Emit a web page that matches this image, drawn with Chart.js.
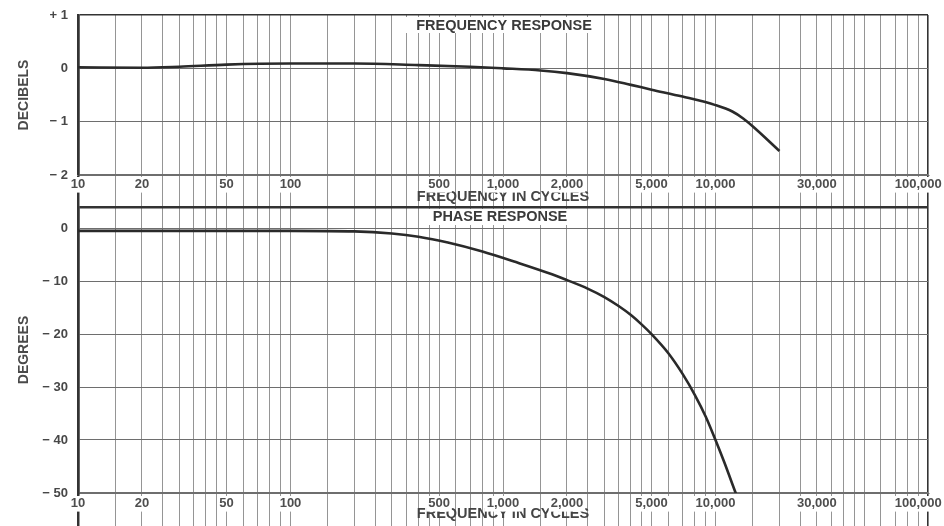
<!DOCTYPE html>
<html><head><meta charset="utf-8">
<script src="https://cdn.jsdelivr.net/npm/chart.js@4"></script>
<style>
html,body{margin:0;padding:0;background:#fff;overflow:hidden;}
#wrap{position:relative;width:944px;height:526px;background:#fff;}
canvas{position:absolute;left:0;}
#c1{top:0;}
#c2{top:200px;}
</style></head><body>
<div id="wrap"><canvas id="c1" width="944" height="210"></canvas><canvas id="c2" width="944" height="326"></canvas></div>
<script>
// ---- data ----
const freqResponseHz = [10, 20, 30, 50, 100, 200, 400, 700, 1000, 1500, 2000, 3000, 4000, 5000, 7000, 10000, 12000, 13500, 15000, 20000];
const freqResponseDb = [0.02, 0.01, 0.03, 0.07, 0.09, 0.09, 0.06, 0.03, 0.0, -0.04, -0.09, -0.2, -0.31, -0.4, -0.53, -0.69, -0.81, -0.94, -1.09, -1.55];
const phaseHz = [10, 100, 200, 300, 400, 550, 800, 1150, 1700, 2000, 2500, 3000, 3500, 4000, 4500, 5000, 6000, 7000, 8000, 9000, 10000, 11000, 12000, 12500];
const phaseDeg = [-0.5, -0.5, -0.6, -1.0, -1.6, -2.7, -4.4, -6.4, -8.7, -9.8, -11.4, -13.0, -14.7, -16.4, -18.2, -20.0, -23.6, -27.5, -31.5, -35.6, -40.0, -44.2, -48.3, -50.2];

const gridMultipliers = [1, 1.5, 2, 2.5, 3, 3.5, 4, 4.5, 5, 6, 7, 8, 9];
const gridDecades = [10, 100, 1000, 10000];
const xMin = 10, xMax = 100000;
const xLabelValues = [10, 20, 50, 100, 500, 1000, 2000, 5000, 10000, 30000, 100000];
const xLabelTexts = ['10', '20', '50', '100', '500', '1,000', '2,000', '5,000', '10,000', '30,000', '100,000'];
const xAxisTitle = 'FREQUENCY IN CYCLES';

const dbTicks = [1, 0, -1, -2];
const dbTickLabels = ['+ 1', '0', '\u2212 1', '\u2212 2'];
const degTicks = [4, 0, -10, -20, -30, -40, -50];
const degTickLabels = ['', '0', '\u2212 10', '\u2212 20', '\u2212 30', '\u2212 40', '\u2212 50'];

const topTitle = 'FREQUENCY RESPONSE';
const bottomTitle = 'PHASE RESPONSE';
const topYTitle = 'DECIBELS';
const bottomYTitle = 'DEGREES';

// ---- styling ----
const FONT = '"Liberation Sans", Arial, Helvetica, sans-serif';
const INK = '#2a2a2a';
const LABEL = '#4e4e4e';
const VGRID = '#959595';
const HGRID = '#6e6e6e';
const FRAME = '#333333';

const gridValues = [];
gridDecades.forEach(d => gridMultipliers.forEach(m => gridValues.push(m * d)));
gridValues.push(xMax);

const panelTitlePlugin = {
  id: 'panelTitle',
  beforeDatasetsDraw(chart, args, opts) {
    const {ctx, chartArea} = chart;
    ctx.save();
    ctx.font = 'bold 14.5px ' + FONT;
    const cx = (chartArea.left + chartArea.right) / 2;
    const w = ctx.measureText(opts.text).width + opts.padX * 2;
    ctx.fillStyle = '#ffffff';
    ctx.fillRect(cx - w / 2, chartArea.top + 2, w, opts.boxH);
    ctx.fillStyle = '#3a3a3a';
    ctx.textAlign = 'center';
    ctx.textBaseline = 'middle';
    ctx.fillText(opts.text, cx + opts.dx, chartArea.top + opts.dy);
    ctx.restore();
  }
};

function xScale(scaleHeight, tickLen, labelPad, titlePadBottom) {
  return {
    type: 'logarithmic',
    min: xMin, max: xMax,
    afterBuildTicks: s => { s.ticks = gridValues.map(v => ({value: v})); },
    afterFit: s => { s.height = scaleHeight; s.paddingLeft = 0; s.paddingRight = 0; },
    grid: {
      color: c => (c.tick && (c.tick.value === xMin || c.tick.value === xMax)) ? FRAME : VGRID,
      lineWidth: c => (c.tick && c.tick.value === xMin) ? 2.5 : ((c.tick && c.tick.value === xMax) ? 1.6 : 1),
      drawTicks: true,
      tickLength: tickLen
    },
    border: {display: true, color: HGRID, width: 1},
    ticks: {
      autoSkip: false, maxRotation: 0, minRotation: 0,
      padding: labelPad,
      color: LABEL,
      font: {family: FONT, size: 13, weight: 'bold'},
      callback: v => {
        const i = xLabelValues.indexOf(v);
        if (i < 0) return '';
        return v === xMax ? xLabelTexts[i] + '\u2003\u2002' : xLabelTexts[i];
      },
      showLabelBackdrop: c => xLabelValues.indexOf(c.tick.value) >= 0,
      backdropColor: '#ffffff',
      backdropPadding: {left: 2, right: 2, top: 0, bottom: 0}
    },
    title: {
      display: true, text: xAxisTitle, color: '#444',
      font: {family: FONT, size: 14.5, weight: 'bold'},
      padding: {top: 0, bottom: titlePadBottom}
    }
  };
}

function yScale(min, max, tickVals, tickTexts, title, topDark) {
  return {
    type: 'linear', min: min, max: max,
    afterBuildTicks: s => { s.ticks = tickVals.map(v => ({value: v})); },
    afterFit: s => { s.width = 78; s.paddingTop = 0; s.paddingBottom = 0; },
    grid: {
      drawTicks: false,
      color: c => (c.tick && c.tick.value === max) ? FRAME : HGRID,
      lineWidth: c => (c.tick && c.tick.value === max) ? topDark : 1.1
    },
    border: {display: true, color: FRAME, width: 2.5},
    ticks: {
      padding: 10, color: '#474747',
      font: {family: FONT, size: 13, weight: 'bold'},
      callback: v => { const i = tickVals.indexOf(v); return i < 0 ? '' : tickTexts[i]; }
    },
    title: {
      display: true, text: title, color: '#4a4a4a',
      font: {family: FONT, size: 14, weight: 'bold'},
      padding: {top: 16, bottom: 0}
    }
  };
}

function lineData(xs, ys) {
  return xs.map((x, i) => ({x: x, y: ys[i]}));
}

const common = {
  responsive: false,
  devicePixelRatio: 1,
  animation: false,
  events: [],
  plugins: {legend: {display: false}, tooltip: {enabled: false}}
};

new Chart(document.getElementById('c1'), {
  type: 'line',
  data: {datasets: [{
    data: lineData(freqResponseHz, freqResponseDb),
    borderColor: INK, borderWidth: 2.6, pointRadius: 0,
    cubicInterpolationMode: 'monotone', fill: false
  }]},
  options: Object.assign({}, common, {
    layout: {padding: {top: 15, right: 16, left: 0, bottom: 0}},
    scales: {
      x: xScale(35, 32, -30, 4),
      y: yScale(-2, 1, dbTicks, dbTickLabels, topYTitle, 1.6)
    },
    plugins: Object.assign({}, common.plugins, {panelTitle: {text: topTitle, padX: 12, boxH: 16, dy: 11, dx: 1}})
  }),
  plugins: [panelTitlePlugin]
});

new Chart(document.getElementById('c2'), {
  type: 'line',
  data: {datasets: [{
    data: lineData(phaseHz, phaseDeg),
    borderColor: INK, borderWidth: 2.6, pointRadius: 0,
    cubicInterpolationMode: 'monotone', fill: false
  }]},
  options: Object.assign({}, common, {
    layout: {padding: {top: 7, right: 16, left: 0, bottom: 0}},
    scales: {
      x: xScale(33, 33, -30, 3),
      y: yScale(-50, 4, degTicks, degTickLabels, bottomYTitle, 2.4)
    },
    plugins: Object.assign({}, common.plugins, {panelTitle: {text: bottomTitle, padX: 14, boxH: 16, dy: 10, dx: -3}})
  }),
  plugins: [panelTitlePlugin]
});
</script>
</body></html>
